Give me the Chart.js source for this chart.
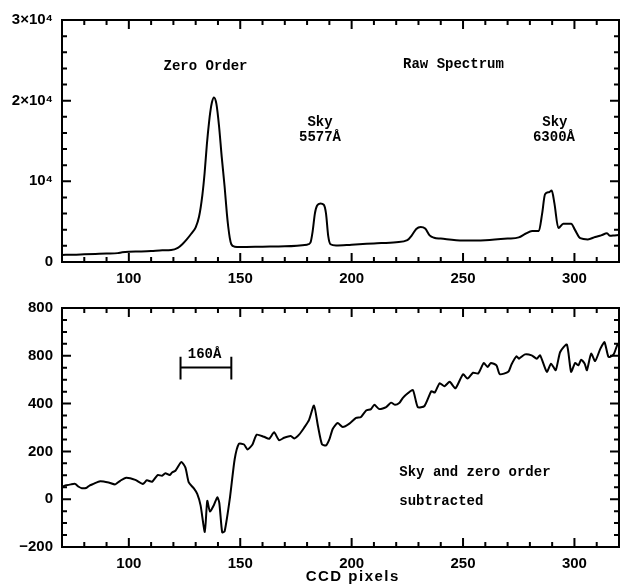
<!DOCTYPE html>
<html>
<head>
<meta charset="utf-8">
<script src="https://cdn.jsdelivr.net/npm/chart.js@4"></script>
<style>
body { margin: 0; background: #fff; }
canvas { display: block; }
</style>
</head>
<body>
<canvas id="rawChart" width="620" height="290"></canvas>
<canvas id="subChart" width="620" height="296"></canvas>
<script>
// raw spectrum (counts vs CCD pixel)
var rawX = [70, 75, 80, 85, 90, 95, 97, 100, 105, 110, 115, 119, 122, 124, 126, 128, 130, 131.5, 133, 134, 135, 135.5, 136.5, 137.3, 138.2, 139.3, 140.5, 141.7, 143, 144, 144.6, 145.3, 146, 147.5,
  150, 160, 170, 180, 181.5, 182.5, 183.5, 184.5, 186, 187.5, 188.5, 189.5, 190.5, 193, 200, 210, 220, 225, 227, 229, 231, 233, 235, 237, 240,
  250, 260, 270, 275, 278, 281, 284, 285.5, 286.8, 288.5, 289.8, 291, 292.8, 295, 298.5, 300.3, 302.6, 306, 309.3, 312, 314.6, 316, 318, 320];
var rawY = [880, 900, 950, 1000, 1050, 1100, 1200, 1270, 1300, 1350, 1450, 1480, 1750, 2200, 2800, 3500, 4300, 5600, 8300, 11000, 14500, 16000, 18500, 19800, 20400, 19600, 16800, 13000, 9300, 6000, 4400, 3000, 2200, 1900,
  1850, 1900, 1950, 2150, 2400, 3800, 6000, 7000, 7250, 7100, 6000, 3200, 2200, 2050, 2150, 2300, 2450, 2700, 3300, 4100, 4350, 4150, 3300, 3000, 2900,
  2650, 2700, 2900, 3050, 3500, 3850, 3850, 6000, 8400, 8650, 8850, 7300, 4200, 4750, 4750, 3950, 2950, 2800, 3100, 3300, 3550, 3250, 3300, 3350];

// sky and zero order subtracted
var subX = [70, 72, 74, 75.9, 77.5, 78.9, 81.1, 82.5, 84.1, 87.1, 90.9, 93.9, 96.1, 98.8, 102.9, 106.3, 108.1, 110.4, 112.9, 114.9, 116.4, 118.3, 119.4, 120.9,
  123.6, 125.4, 126.9, 129.1, 130.7, 132.2, 134.1, 135.2, 136.4, 138.1, 139.7, 140.6, 141.9, 143, 145.4, 147.5, 149.4, 151.7, 153.3, 155.5, 157.4,
  160.7, 163, 165.2, 167.4, 169.7, 172.7, 174.2, 176.4, 178.6, 180.9, 183.1, 184.9, 186.7, 188.5, 190, 191.5, 193.7, 196, 199, 202, 204.2, 206.5,
  208.7, 210.2, 212.4, 215.5, 217.7, 219.5, 221.5, 223, 225.2, 227.5, 229.7, 232.7, 235.8, 237.3, 239.5, 241.7, 244, 246.6, 250, 252, 254.5, 256.8,
  259.3, 261, 262.5, 265, 266.5, 270.3, 271.8, 274, 275.1, 277.8, 280.8, 283.1, 284.6, 287.6, 289.5, 291.6, 293.6, 296.6, 298.5, 300.3, 301.8, 303,
  304.6, 305.6, 307.5, 309.3, 311.6, 313.5, 315.3, 317.6, 319.5, 321];
var subY = [52, 58, 62, 64, 52, 46, 48, 58, 64, 75, 70, 62, 77, 90, 81, 64, 79, 73, 101, 98, 109, 101, 112, 119,
  156, 132, 70, 46, 22, -26, -137, -7, -51, -26, 8, -15, -139, -134, 8, 167, 232, 229, 208, 229, 270,
  261, 253, 280, 247, 257, 264, 254, 270, 298, 332, 392, 305, 229, 225, 250, 294, 319, 302, 316, 340, 344, 371,
  377, 395, 377, 385, 404, 395, 404, 424, 443, 457, 385, 390, 452, 446, 485, 473, 491, 464, 523, 505, 529, 526,
  570, 553, 570, 560, 523, 533, 565, 598, 588, 606, 602, 588, 602, 533, 567, 540, 616, 647, 533, 570, 560, 584,
  567, 540, 609, 578, 629, 657, 595, 606, 650, 640];

var xTicks = [100, 150, 200, 250, 300];
var rawTicks = [0, 10000, 20000, 30000];
var rawTickLabels = ['0', '10⁴', '2×10⁴', '3×10⁴'];
var subTicks = [-200, 0, 200, 400, 600, 800];
var subTickLabels = ['−200', '0', '200', '400', '800', '800'];

var tickFont = { family: 'Liberation Sans', weight: 'bold', size: 15 };
var noteFont = 'bold 14px "Liberation Mono"';

function points(xs, ys) {
  return xs.map(function (x, i) { return { x: x, y: ys[i] }; });
}

// box round the plot with inward ticks on all four sides
function framePlugin(yMajor, yMinorStep, annotate) {
  return {
    id: 'frame',
    afterDatasetsDraw: function (chart) {
      var ctx = chart.ctx, a = chart.chartArea;
      var xs = chart.scales.x, ys = chart.scales.y;
      ctx.save();
      ctx.strokeStyle = '#000';
      ctx.lineWidth = 2;
      ctx.strokeRect(a.left, a.top, a.right - a.left, a.bottom - a.top);
      ctx.beginPath();
      for (var v = 70; v <= 320; v += 10) {
        var len = xTicks.indexOf(v) >= 0 ? 9 : 5;
        var px = xs.getPixelForValue(v);
        ctx.moveTo(px, a.bottom); ctx.lineTo(px, a.bottom - len);
        ctx.moveTo(px, a.top); ctx.lineTo(px, a.top + len);
      }
      for (v = ys.min; v <= ys.max; v += yMinorStep) {
        len = yMajor.indexOf(v) >= 0 ? 9 : 5;
        var py = ys.getPixelForValue(v);
        ctx.moveTo(a.left, py); ctx.lineTo(a.left + len, py);
        ctx.moveTo(a.right, py); ctx.lineTo(a.right - len, py);
      }
      ctx.stroke();
      ctx.fillStyle = '#000';
      ctx.font = noteFont;
      ctx.textBaseline = 'middle';
      annotate(ctx, xs, ys, chart);
      ctx.restore();
    }
  };
}

function makeOptions(yMin, yMax, yVals, yLabels, padTop, xHeight) {
  return {
    responsive: false,
    animation: false,
    layout: { padding: { top: padTop, right: 1, left: 0, bottom: 0 } },
    plugins: { legend: { display: false }, tooltip: { enabled: false } },
    scales: {
      x: {
        type: 'linear', min: 70, max: 320,
        grid: { display: false, drawTicks: false }, border: { display: false },
        afterBuildTicks: function (s) { s.ticks = xTicks.map(function (v) { return { value: v }; }); },
        afterFit: function (s) { s.height = xHeight; },
        ticks: { color: '#000', font: tickFont, padding: 8, maxRotation: 0, autoSkip: false }
      },
      y: {
        type: 'linear', min: yMin, max: yMax,
        grid: { display: false, drawTicks: false }, border: { display: false },
        afterBuildTicks: function (s) { s.ticks = yVals.map(function (v) { return { value: v }; }); },
        afterFit: function (s) { s.width = 62; },
        ticks: {
          color: '#000', font: tickFont, padding: 9, autoSkip: false,
          callback: function (v, i) { return yLabels[i]; }
        }
      }
    }
  };
}

new Chart(document.getElementById('rawChart'), {
  type: 'line',
  data: {
    datasets: [{
      data: points(rawX, rawY),
      borderColor: '#000', borderWidth: 2, pointRadius: 0, fill: false,
      cubicInterpolationMode: 'monotone'
    }]
  },
  options: makeOptions(0, 30000, rawTicks, rawTickLabels, 20, 28),
  plugins: [framePlugin(rawTicks, 2000, function (ctx, xs, ys) {
    ctx.textAlign = 'center';
    ctx.fillText('Zero Order', xs.getPixelForValue(134.4), ys.getPixelForValue(24300));
    ctx.fillText('Raw Spectrum', xs.getPixelForValue(245.7), ys.getPixelForValue(24500));
    ctx.fillText('Sky', xs.getPixelForValue(185.8), ys.getPixelForValue(17300));
    ctx.fillText('5577Å', xs.getPixelForValue(185.8), ys.getPixelForValue(15400));
    ctx.fillText('Sky', xs.getPixelForValue(291.2), ys.getPixelForValue(17300));
    ctx.fillText('6300Å', xs.getPixelForValue(290.8), ys.getPixelForValue(15400));
  })]
});

new Chart(document.getElementById('subChart'), {
  type: 'line',
  data: {
    datasets: [{
      data: points(subX, subY),
      borderColor: '#000', borderWidth: 2, pointRadius: 0, fill: false,
      tension: 0.2, borderJoinStyle: 'round'
    }]
  },
  options: makeOptions(-200, 800, subTicks, subTickLabels, 14, 39),
  plugins: [framePlugin(subTicks, 50, function (ctx, xs, ys, chart) {
    // 160 A scale bar
    var x1 = xs.getPixelForValue(123.2), x2 = xs.getPixelForValue(146);
    var yb = ys.getPixelForValue(551);
    ctx.beginPath();
    ctx.moveTo(x1, yb); ctx.lineTo(x2, yb);
    ctx.moveTo(x1, ys.getPixelForValue(501)); ctx.lineTo(x1, ys.getPixelForValue(596));
    ctx.moveTo(x2, ys.getPixelForValue(501)); ctx.lineTo(x2, ys.getPixelForValue(596));
    ctx.stroke();
    ctx.textAlign = 'center';
    ctx.fillText('160Å', xs.getPixelForValue(134), ys.getPixelForValue(607));
    ctx.textAlign = 'left';
    ctx.fillText('Sky and zero order', xs.getPixelForValue(221.4), ys.getPixelForValue(112));
    ctx.fillText('subtracted', xs.getPixelForValue(221.4), ys.getPixelForValue(-8));
    // axis title
    ctx.font = 'bold 15px "Liberation Sans"';
    ctx.letterSpacing = '1.5px';
    ctx.textAlign = 'center';
    ctx.fillText('CCD pixels', xs.getPixelForValue(200.5), chart.height - 9);
  })]
});
</script>
</body>
</html>
